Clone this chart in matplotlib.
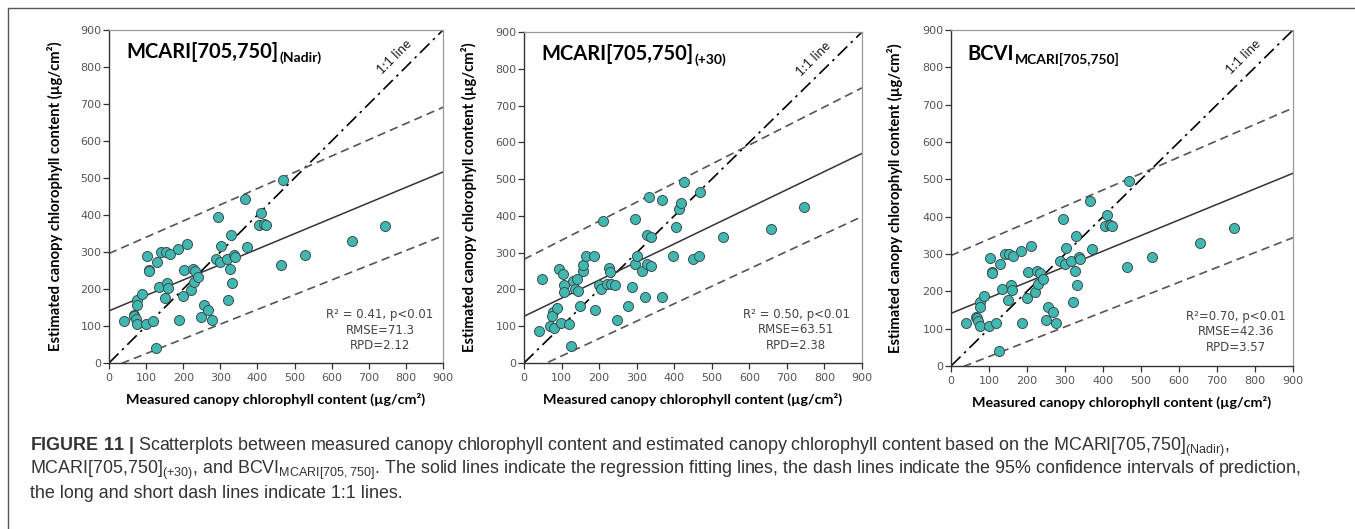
import numpy as np
import matplotlib
matplotlib.use('Agg')
import matplotlib.pyplot as plt
from matplotlib.lines import Line2D

# measured (x) vs estimated (y) canopy chlorophyll content
nadir_x = [40, 67, 68, 72, 76, 76, 76, 88, 101, 103, 107, 107, 118, 127, 130, 134, 141, 151, 153, 157,
           160, 164, 185, 188, 200, 203, 211, 221, 227, 229, 233, 241, 249, 256, 268, 277, 288, 294, 299, 302,
           317, 321, 327, 329, 331, 338, 340, 367, 372, 405, 410, 418, 424, 464, 469, 528, 654, 744]
nadir_y = [114, 130, 128, 120, 171, 158, 106, 187, 106, 288, 252, 248, 114, 41, 273, 205, 300, 176, 300, 216,
           203, 295, 308, 115, 182, 252, 322, 198, 254, 219, 250, 232, 123, 158, 144, 115, 281, 395, 273, 315,
           281, 171, 254, 347, 216, 293, 286, 443, 313, 374, 405, 377, 374, 266, 495, 291, 329, 370]

plus30_x = [40, 49, 68, 77, 75, 80, 89, 92, 98, 104, 107, 107, 119, 125, 130, 135, 142, 145, 150, 158,
            158, 164, 186, 188, 201, 204, 211, 225, 230, 222, 231, 241, 248, 277, 288, 295, 295, 302, 315, 321,
            328, 328, 333, 339, 339, 367, 367, 397, 406, 412, 419, 425, 451, 465, 468, 530, 657, 745]
plus30_y = [86, 228, 101, 140, 128, 95, 149, 255, 110, 242, 212, 192, 107, 45, 222, 201, 228, 197, 154, 251,
            267, 292, 292, 145, 212, 201, 386, 258, 247, 215, 215, 211, 118, 154, 206, 391, 269, 290, 251, 179,
            269, 348, 452, 343, 265, 443, 179, 291, 371, 420, 434, 493, 282, 291, 466, 343, 364, 423]

# the BCVI panel shows the same points as the nadir panel in the source figure
bcvi_x = nadir_x
bcvi_y = nadir_y

titles = ['MCARI[705,750]', 'MCARI[705,750]', 'BCVI']
title_subs = ['(Nadir)', '(+30)', 'MCARI[705,750]']
stats = ['R\u00b2 = 0.41, p<0.01\nRMSE=71.3\nRPD=2.12',
         'R\u00b2 = 0.50, p<0.01\nRMSE=63.51\nRPD=2.38',
         'R\u00b2=0.70, p<0.01\nRMSE=42.36\nRPD=3.57']

# regression line and 95% prediction interval lines (intercept, slope)
fit_int = [141, 127, 141]
fit_slope = [0.417, 0.492, 0.417]
up_int = [296, 282, 296]
up_slope = [0.439, 0.518, 0.439]
lo_int = [-14.5, -28.4, -14.5]
lo_slope = [0.398, 0.474, 0.398]

ticks = [0, 100, 200, 300, 400, 500, 600, 700, 800, 900]

W, H = 1355, 529
fig = plt.figure(figsize=(W / 100, H / 100), dpi=100)

# axes boxes in pixels: left, top, right, bottom
boxes = [(109, 30, 443, 363), (524, 32, 862, 363), (951, 30, 1293, 366)]
ylab_x = [-0.138, -0.139, -0.140]
title_pos = [(0.051, 0.935), (0.051, 0.935), (0.047, 0.93)]
stat_pos = [(730, 88), (725, 90), (750, 92)]

xs_all = [nadir_x, plus30_x, bcvi_x]
ys_all = [nadir_y, plus30_y, bcvi_y]

renderer = fig.canvas.get_renderer()
lx = np.array([0, 900])

for i in range(3):
    l, t, r, b = boxes[i]
    ax = fig.add_axes([l / W, 1 - b / H, (r - l) / W, (b - t) / H])
    ax.set_xlim(0, 900)
    ax.set_ylim(0, 900)

    ax.plot(lx, lx, color='black', lw=1.2, dashes=(8, 3, 1.5, 3))
    ax.plot(lx, up_int[i] + up_slope[i] * lx, color='#555555', lw=1.2, dashes=(5, 3))
    ax.plot(lx, lo_int[i] + lo_slope[i] * lx, color='#555555', lw=1.2, dashes=(5, 3))
    ax.plot(lx, fit_int[i] + fit_slope[i] * lx, color='#333333', lw=1.1)
    ax.scatter(xs_all[i], ys_all[i], s=52, color='#41b7b2', edgecolor='#3d4d4d', linewidth=0.7, zorder=5)

    ax.set_xticks(ticks)
    ax.set_yticks(ticks)
    ax.tick_params(direction='out', length=4, width=0.9, color='#333333', labelcolor='#555555',
                   labelsize=8)
    ax.tick_params(axis='y', pad=1.5)
    ax.tick_params(axis='x', pad=3)
    for side in ['left', 'bottom']:
        ax.spines[side].set_color('#333333')
        ax.spines[side].set_linewidth(1.0)
    for side in ['top', 'right']:
        ax.spines[side].set_color('#999999')
        ax.spines[side].set_linewidth(0.9)

    ax.set_xlabel('Measured canopy chlorophyll content (\u00b5g/cm\u00b2)', family=['Lato', 'DejaVu Sans'],
                  fontweight='bold', fontsize=10.3, labelpad=7)
    ax.set_ylabel('Estimated canopy chlorophyll content (\u00b5g/cm\u00b2)', family=['Lato', 'DejaVu Sans'],
                  fontweight='bold', fontsize=10.6)
    ax.yaxis.set_label_coords(ylab_x[i], 0.5)

    ax.text(770, 827, '1:1 line', rotation=45, ha='center', va='center', fontsize=9.5,
            family=['Lato', 'DejaVu Sans'], color='#222222')
    ax.text(stat_pos[i][0], stat_pos[i][1], stats[i], ha='center', va='center', multialignment='center',
            fontsize=8.5, color='#444444', linespacing=1.25)

    tt = ax.text(title_pos[i][0], title_pos[i][1], titles[i], transform=ax.transAxes, va='center',
                 fontsize=14.5, fontweight='bold', family='Lato', color='black')
    bb = tt.get_window_extent(renderer)
    sx, sy = ax.transAxes.inverted().transform((bb.x1 + 1, bb.y0 - 2))
    ax.text(sx, sy, title_subs[i], transform=ax.transAxes, va='bottom', ha='left',
            fontsize=10, fontweight='bold', family='Lato', color='black')

# caption
plt.rcParams['mathtext.fontset'] = 'custom'
plt.rcParams['mathtext.rm'] = 'Liberation Sans'
plt.rcParams['mathtext.bf'] = 'Liberation Sans:bold'
cap = [r'$\mathbf{FIGURE\ 11}$ $\mathbf{|}$ Scatterplots between measured canopy chlorophyll content and estimated '
       r'canopy chlorophyll content based on the MCARI[705,750]$_{\mathregular{(Nadir)}}$,',
       r'MCARI[705,750]$_{\mathregular{(+30)}}$, and BCVI$_{\mathregular{MCARI[705,750]}}$. The solid lines '
       r'indicate the regression fitting lines, the dash lines indicate the 95% confidence intervals of prediction,',
       'the long and short dash lines indicate 1:1 lines.']
cap_y = [447, 470, 493]
for txt, yy in zip(cap, cap_y):
    fig.text(30 / W, 1 - yy / H, txt, va='center', ha='left', fontsize=12.9, family='Liberation Sans',
             color='#333333')

# outer frame (top and left edges)
fig.add_artist(Line2D([8 / W, 8 / W, 1], [0, 1 - 8 / H, 1 - 8 / H], transform=fig.transFigure,
                      color='#555555', lw=1.0))

fig.savefig('out.png', dpi=100)
